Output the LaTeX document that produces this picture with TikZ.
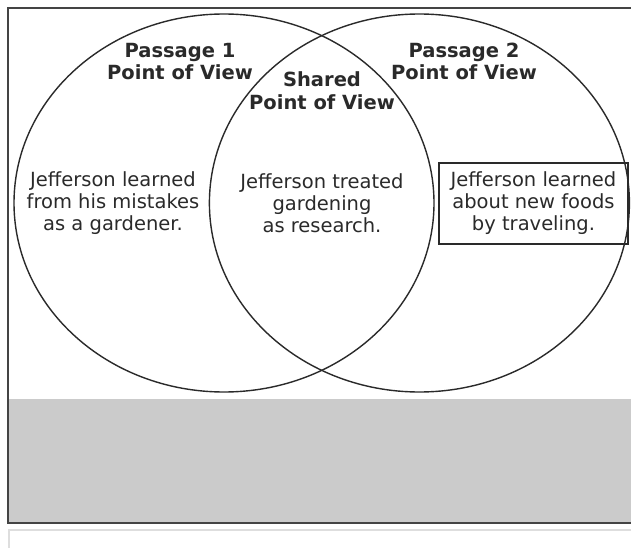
\documentclass[tikz,border=0pt]{standalone}
\usepackage{fontspec}
\setmainfont{DejaVu Sans}
\usetikzlibrary{positioning,shapes.geometric}
\definecolor{framegray}{HTML}{444444}
\definecolor{bandgray}{HTML}{CBCBCB}
\definecolor{edgegray}{HTML}{DEDEDE}
\definecolor{inkgray}{HTML}{2A2A2A}
\def\VennWidth{420pt}
\def\VennHeight{378pt}
\tikzset{
	venn/.style={ellipse,draw=inkgray,line width=1.4pt,minimum width=\VennWidth,minimum height=\VennHeight,inner sep=0pt},
	heading/.style={font=\fontsize{19.5}{22.5}\selectfont\bfseries,align=center,text=inkgray,inner sep=0pt},
	claim/.style={font=\fontsize{19.5}{22}\selectfont,align=center,text=inkgray,inner sep=0pt},
	answerbox/.style={draw=inkgray,line width=2pt,minimum width=189pt,minimum height=81pt}
}
\begin{document}
\begin{tikzpicture}[x=1pt,y=-1pt]
	\useasboundingbox (0,0) rectangle (631,548);
	\clip (0,0) rectangle (631,548);
	\fill[white] (0,0) rectangle (631,548);
	% grey band and outer frame
	\fill[bandgray] (8,399) rectangle (640,523);
	\draw[framegray,line width=1.5pt] (8,8) rectangle (640,523);
	\draw[edgegray,line width=1.5pt] (9,530) rectangle (640,570);
	% the two circles
	\node[venn] (left) at (224,203) {};
	\node[venn,right=-226pt of left] (right) {};
	% headings
	\node[heading] (pass1) at (180,61.5) {Passage 1\\Point of View};
	\node[heading] (shared) at (322,90.5) {Shared\\Point of View};
	\node[heading] (pass2) at (464,61.5) {Passage 2\\Point of View};
	% statements
	\node[claim] (mistakes) at (113,203) {Jefferson learned\\from his mistakes\\as a gardener.};
	\node[claim] (research) at (322,203) {Jefferson treated\\gardening\\as research.};
	\node[answerbox] (foods) at (533.5,203.5) {};
	\node[claim] (travel) at (foods.center) {Jefferson learned\\about new foods\\by traveling.};
\end{tikzpicture}
\end{document}
